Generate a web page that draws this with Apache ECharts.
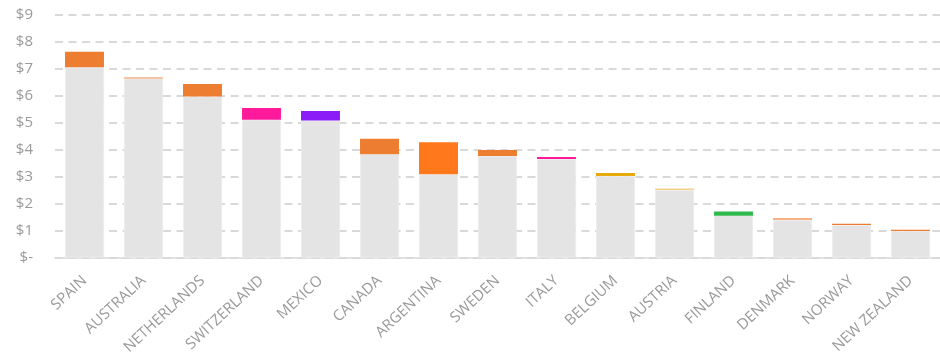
<!DOCTYPE html>
<html>
<head>
<meta charset="utf-8">
<script src="https://cdn.jsdelivr.net/npm/echarts@6/dist/echarts.min.js"></script>
<style>html,body{margin:0;padding:0;background:#fff;}#c{width:940px;height:363px;}</style>
</head>
<body>
<div id="c"></div>
<script>
const categories = ['SPAIN','AUSTRALIA','NETHERLANDS','SWITZERLAND','MEXICO','CANADA','ARGENTINA','SWEDEN','ITALY','BELGIUM','AUSTRIA','FINLAND','DENMARK','NORWAY','NEW ZEALAND'];
const baseValues = [7.05, 6.62, 5.96, 5.10, 5.07, 3.82, 3.08, 3.76, 3.65, 3.02, 2.50, 1.55, 1.39, 1.20, 0.98];
const topValues  = [0.57, 0.06, 0.47, 0.44, 0.36, 0.58, 1.19, 0.22, 0.07, 0.11, 0.06, 0.15, 0.07, 0.05, 0.05];
const yTicks = [0,1,2,3,4,5,6,7,8,9];
const topColors = ['#ed7d31','#f4b183','#ed7d31','#ff1a9c','#8c1cf7','#ed7d31','#ff781c','#ed7d31','#ff1a9c','#e8aa0a','#f2d386','#2fb84b','#f4b183','#ed7d31','#ed7d31'];

const chart = echarts.init(document.getElementById('c'), null, {renderer:'canvas'});
chart.setOption({
  animation: false,
  grid: {left: 55, right: -8, top: 14.5, bottom: 105.5, containLabel: false},
  xAxis: {
    type: 'category',
    data: categories,
    axisLine: {show: true, lineStyle: {color: '#d9d9d9', width: 1.5}},
    axisTick: {show: false},
    axisLabel: {interval: 0, rotate: 43, color: '#9a9a9a', fontSize: 15, fontFamily: 'Open Sans', margin: 21}
  },
  yAxis: {
    type: 'value',
    min: yTicks[0], max: yTicks[yTicks.length-1], interval: 1,
    axisLine: {show: false},
    axisTick: {show: false},
    axisLabel: {color: '#9a9a9a', fontSize: 15, fontFamily: 'Open Sans', margin: 22,
      formatter: v => v === 0 ? '$-' : '$' + v},
    splitLine: {show: true, lineStyle: {color: '#d9d9d9', width: 2, type: [8, 5.5]}}
  },
  series: [
    {
      name: 'base', type: 'bar', stack: 'a', barCategoryGap: '34%',
      data: baseValues,
      itemStyle: {color: '#e4e4e4', borderColor: '#f2f2f2', borderWidth: 0.5}
    },
    {
      name: 'top', type: 'bar', stack: 'a', barCategoryGap: '34%',
      data: topValues.map((v, i) => ({value: v, itemStyle: {color: topColors[i]}})),
      itemStyle: {borderWidth: 0}
    }
  ]
});
</script>
</body>
</html>
